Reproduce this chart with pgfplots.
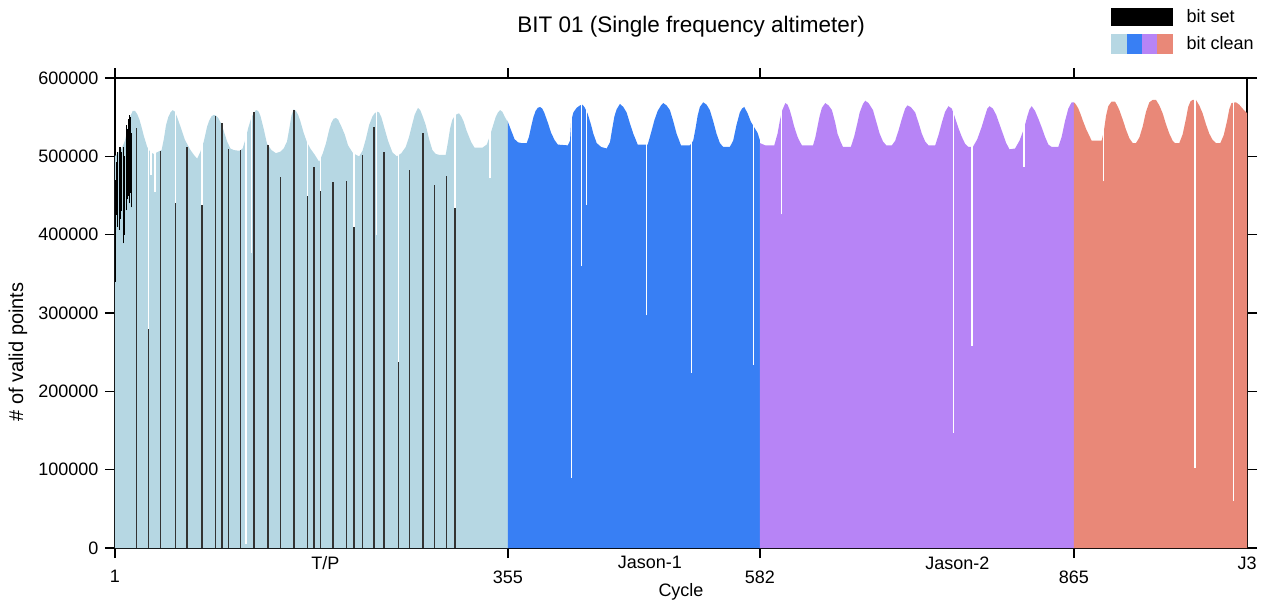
\documentclass[border=0pt]{standalone}
\usepackage{pgfplots}
\pgfplotsset{compat=1.18}
\usepackage{fontspec}
\setmainfont{Liberation Sans}
\definecolor{tpblue}{RGB}{182,215,227}
\definecolor{jaone}{RGB}{56,127,244}
\definecolor{jatwo}{RGB}{183,132,246}
\definecolor{jthree}{RGB}{233,136,120}
\begin{document}
\begin{tikzpicture}[x=1pt,y=1pt]
\useasboundingbox (-115,-55) rectangle (1156,548);
\begin{axis}[
  at={(0,0)}, anchor=south west,
  scale only axis, width=1132pt, height=470pt,
  xmin=1, xmax=1021, ymin=0, ymax=600000,
  axis line style={line width=1.4pt},
  tick align=outside, major tick length=10pt,
  every tick/.style={black, line width=1.4pt},
  xtick={1,355,582,865}, xticklabels={1,355,582,865},
  ytick={0,100000,200000,300000,400000,500000,600000},
  scaled y ticks=false,
  yticklabel style={/pgf/number format/fixed, /pgf/number format/1000 sep={}, xshift=-3pt},
  xticklabel style={yshift=-9pt},
  /pgf/number format/assume math mode=true,
  tick label style={font=\fontsize{18}{21}\selectfont},
  extra x ticks={190.6,482.9,760,1021},
  extra x tick labels={T/P,Jason-1,Jason-2,J3},
  extra x tick style={major tick length=0pt, xticklabel style={yshift=4pt}},
  xlabel={Cycle}, ylabel={\# of valid points},
  xlabel style={at={(axis description cs:0.5,-0.0936)}, anchor=center, font=\fontsize{18}{21}\selectfont},
  ylabel style={at={(axis description cs:-0.0857,0.417)}, anchor=center, font=\fontsize{20}{24}\selectfont},
  title={BIT 01 (Single frequency altimeter)},
  title style={at={(axis description cs:0.509,1.0851)}, anchor=base, font=\fontsize{22.5}{27}\selectfont},
  legend style={at={(axis description cs:0.8799,1.151)}, anchor=north west, draw=none, fill=none,
    inner sep=0pt, font=\fontsize{18}{21}\selectfont, row sep=8pt,
    /tikz/every odd column/.append style={column sep=12pt}},
  legend cell align=left,
]
% T/P
\addplot[fill=tpblue, draw=none, forget plot] coordinates {
(1,500000) (4,505000) (7,510000) (10,520000) (13,540000) (15,552000) (17,558000) (19,558000) (21,554000) (23,547000) (25,537000) (27,526000) (30,512000) (33,505000) (36,503000) (40,506000) (43,508000) (45,522000) (47,540000) (49,550000) (51,556000) (53,559000) (55,557000) (57,550000) (60,538000) (64,521000) (69,508000) (72,502000) (75,497000) (78,506000) (81,519000) (84,538000) (86,546000) (88,551000) (90,553000) (92,552000) (94,549000) (97,541000) (100,528000) (102,519000) (105,510000) (108,508000) (113,507000) (116,510000) (119,524000) (121,536000) (124,550000) (126,555000) (128,559000) (130,558000) (132,552000) (135,535000) (138,516000) (142,508000) (146,504000) (150,506000) (153,510000) (156,519000) (158,535000) (160,552000) (162,560000) (164,558000) (166,553000) (168,545000) (171,530000) (174,518000) (177,510000) (181,502000) (185,493000) (188,503000) (191,516000) (194,534000) (196,543000) (198,548000) (200,549000) (202,547000) (205,538000) (208,528000) (211,514000) (215,505000) (218,502000) (221,500000) (224,507000) (227,522000) (230,540000) (233,551000) (235,555000) (237,557000) (239,556000) (241,550000) (244,535000) (247,520000) (251,505000) (255,500000) (259,504000) (263,512000) (266,525000) (269,542000) (271,553000) (274,562000) (276,559000) (278,552000) (281,540000) (284,522000) (287,508000) (290,503000) (293,502000) (299,502000) (301,518000) (303,536000) (305,547000) (308,553000) (311,555000) (313,551000) (315,545000) (318,532000) (322,518000) (325,511000) (332,511000) (336,515000) (339,527000) (342,541000) (344,550000) (346,556000) (348,559000) (350,557000) (352,551000) (354,546000) (355,545000)
} \closedcycle;
% Jason-1
\addplot[fill=jaone, draw=none, forget plot] coordinates {
(355,544000) (358,533000) (361,522000) (364,518000) (367,517000) (372,517000) (374,525000) (376,538000) (378,550000) (380,558000) (382,562000) (384,563000) (386,561000) (388,555000) (391,543000) (394,530000) (397,521000) (400,515000) (409,514000) (411,520000) (412,545000) (414,556000) (417,562000) (420,565000) (422,566000) (424,563000) (427,554000) (430,540000) (432,529000) (435,517000) (439,512000) (444,510000) (447,518000) (449,535000) (451,551000) (453,560000) (456,567000) (459,563000) (462,556000) (465,542000) (468,529000) (472,515000) (481,515000) (484,530000) (487,546000) (490,558000) (493,565000) (495,568000) (498,565000) (501,559000) (504,545000) (507,529000) (511,514000) (519,514000) (522,520000) (524,535000) (526,552000) (528,563000) (531,569000) (534,566000) (537,559000) (540,545000) (543,529000) (546,517000) (549,512000) (555,512000) (558,520000) (561,540000) (564,556000) (566,561000) (568,563000) (571,555000) (574,544000) (577,537000) (580,530000) (582,521000)
} \closedcycle;
% Jason-2
\addplot[fill=jatwo, draw=none, forget plot] coordinates {
(582,517000) (587,514000) (595,514000) (598,529000) (600,545000) (602,558000) (605,568000) (607,566000) (609,559000) (611,549000) (613,538000) (616,525000) (618,519000) (620,514000) (630,514000) (632,524000) (634,538000) (636,552000) (638,562000) (641,568000) (644,565000) (647,559000) (650,543000) (652,529000) (655,518000) (657,512000) (664,512000) (667,525000) (670,543000) (672,556000) (675,567000) (677,571000) (680,568000) (684,559000) (687,544000) (690,529000) (693,519000) (696,514000) (701,514000) (704,520000) (707,533000) (710,548000) (713,561000) (715,565000) (718,563000) (722,556000) (725,543000) (728,529000) (731,519000) (734,514000) (740,514000) (743,527000) (746,543000) (749,557000) (752,564000) (755,561000) (758,549000) (761,536000) (764,525000) (767,516000) (770,512000) (774,512000) (778,522000) (782,538000) (785,552000) (787,561000) (789,564000) (792,561000) (795,553000) (798,541000) (801,529000) (804,517000) (807,509000) (812,510000) (816,520000) (820,535000) (823,551000) (825,560000) (827,564000) (830,558000) (833,548000) (836,537000) (839,525000) (842,515000) (845,512000) (851,512000) (854,525000) (857,545000) (860,561000) (863,569000) (865,569000)
} \closedcycle;
% Jason-3
\addplot[fill=jthree, draw=none, forget plot] coordinates {
(865,569000) (867,566000) (869,561000) (871,554000) (873,546000) (876,535000) (878,529000) (881,520000) (890,520000) (892,532000) (894,552000) (896,564000) (899,570000) (902,570000) (904,565000) (906,559000) (909,547000) (912,534000) (915,523000) (918,517000) (921,517000) (924,524000) (927,538000) (930,557000) (933,569000) (936,572000) (939,572000) (942,565000) (945,555000) (948,541000) (951,529000) (954,520000) (956,517000) (960,517000) (963,528000) (966,548000) (968,563000) (970,570000) (972,572000) (975,572000) (978,565000) (981,555000) (984,541000) (987,529000) (990,521000) (993,517000) (997,517000) (1000,527000) (1003,545000) (1005,560000) (1007,568000) (1011,569000) (1014,566000) (1017,561000) (1021,555000)
} \closedcycle;
% passes with fewer points (gaps above the value)
\addplot[white, line width=1.3pt, unbounded coords=jump, forget plot] coordinates {
(31.4,280000) (31.4,585000) (31.4,nan)
(33.4,476000) (33.4,585000) (33.4,nan)
(37,455000) (37,585000) (37,nan)
(55.3,440000) (55.3,585000) (55.3,nan)
(79.4,438000) (79.4,585000) (79.4,nan)
(119,5000) (119,585000) (119,nan)
(123.8,377000) (123.8,585000) (123.8,nan)
(174.2,449000) (174.2,585000) (174.2,nan)
(186.3,456000) (186.3,585000) (186.3,nan)
(216.3,410000) (216.3,585000) (216.3,nan)
(236.4,400000) (236.4,585000) (236.4,nan)
(256.2,238000) (256.2,585000) (256.2,nan)
(307.3,434000) (307.3,585000) (307.3,nan)
(338.8,472000) (338.8,585000) (338.8,nan)
(412.2,90000) (412.2,585000) (412.2,nan)
(421.6,360000) (421.6,585000) (421.6,nan)
(426.1,438000) (426.1,585000) (426.1,nan)
(480.2,297000) (480.2,585000) (480.2,nan)
(520.7,224000) (520.7,585000) (520.7,nan)
(576.1,234000) (576.1,585000) (576.1,nan)
(601.5,426000) (601.5,585000) (601.5,nan)
(756.3,147000) (756.3,585000) (756.3,nan)
(773.2,258000) (773.2,585000) (773.2,nan)
(820,487000) (820,585000) (820,nan)
(892,468000) (892,585000) (892,nan)
(974,102000) (974,585000) (974,nan)
(1009,60000) (1009,585000) (1009,nan)
};
% bit set: early cluster
\addplot[black, line width=1.1pt, unbounded coords=jump, forget plot] coordinates {
(1,340000) (1,470000) (1,nan)
(2,425000) (2,493000) (2,nan)
(3.5,410000) (3.5,505000) (3.5,nan)
(5,406000) (5,512000) (5,nan)
(6,420000) (6,512000) (6,nan)
(7,430000) (7,505000) (7,nan)
(8.5,389000) (8.5,512000) (8.5,nan)
(9.5,400000) (9.5,500000) (9.5,nan)
(11,431000) (11,540000) (11,nan)
(12,445000) (12,535000) (12,nan)
(13,450000) (13,548000) (13,nan)
(14,440000) (14,553000) (14,nan)
(15,453000) (15,550000) (15,nan)
(16,435000) (16,530000) (16,nan)
};
% bit set: single passes
\addplot[ycomb, black!80, line width=1.3pt, forget plot] coordinates {
(20.2,536000) (31.4,280000) (41.8,507000) (55.3,440000) (65.9,512000) (79.4,438000) (91.3,552000) (97.4,542000) (103.4,510000) (113.9,508000) (126.2,557000) (138.8,514000) (150.3,473000) (162.2,559000) (174.2,449000) (180.2,486000) (186.3,456000) (197.4,467000) (209.3,469000) (216.3,410000) (223.8,502000) (234.3,537000) (243.3,506000) (256.2,238000) (266.4,482000) (278.4,530000) (289.2,463000) (299.4,475000) (307.3,434000)
};
\addlegendimage{legend image code/.code={\fill[black] (0pt,-8.5pt) rectangle (61pt,8.5pt);}}
\addlegendentry{bit set}
\addlegendimage{legend image code/.code={
  \fill[tpblue] (0pt,-9.5pt) rectangle (15.25pt,9.5pt);
  \fill[jaone] (15.25pt,-9.5pt) rectangle (30.5pt,9.5pt);
  \fill[jatwo] (30.5pt,-9.5pt) rectangle (45.75pt,9.5pt);
  \fill[jthree] (45.75pt,-9.5pt) rectangle (61pt,9.5pt);}}
\addlegendentry{bit clean}
\end{axis}
\end{tikzpicture}
\end{document}
